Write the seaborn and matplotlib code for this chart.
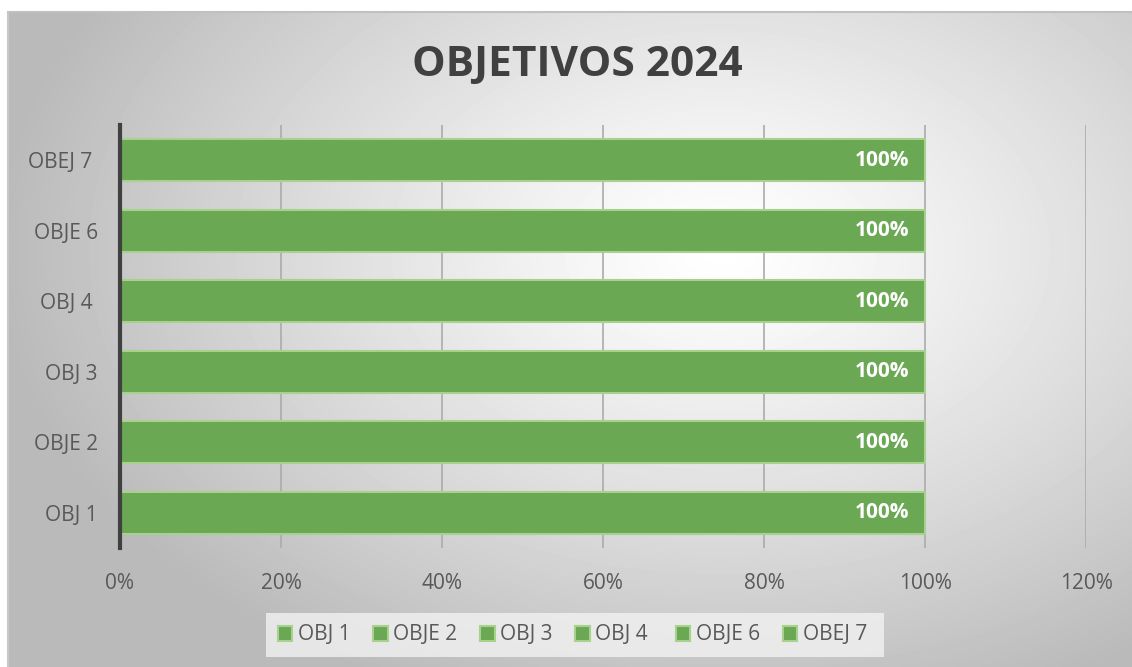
import numpy as np
import pandas as pd
import seaborn as sns
import matplotlib.pyplot as plt
from matplotlib.ticker import FuncFormatter

# data
categories = ['OBJ 1', 'OBJE 2', 'OBJ 3', 'OBJ 4 ', 'OBJE 6', 'OBEJ 7 ']
values = [100, 100, 100, 100, 100, 100]
xticks = [0, 20, 40, 60, 80, 100, 120]

green = '#6aa854'
edge = '#a9d18e'
txt = '#595959'

df = pd.DataFrame({'obj': categories, 'pct': values})

sns.set_style('white')
plt.rcParams['font.family'] = ['Open Sans', 'DejaVu Sans']

fig = plt.figure(figsize=(11.32, 6.67), dpi=100)

# radial gradient background of the chart area
bg = fig.add_axes([8 / 1132, 0, 1 - 8 / 1132, 1 - 12 / 667], zorder=-10)
W, H = 1124, 655
xx, yy = np.meshgrid(np.arange(W) + 8, np.arange(H) + 12)
r = np.sqrt(((xx - 720) / 660) ** 2 + ((yy - 250) / 440) ** 2)
shade = 255 - 62 * np.clip(r, 0, 1.1) ** 1.2
bg.imshow(shade, cmap='gray', vmin=0, vmax=255, aspect='auto', interpolation='bilinear')
bg.set_axis_off()
fig.add_artist(plt.Line2D([8 / 1132, 1], [1 - 12 / 667] * 2, color='#c0c0c0', lw=1.5))
fig.add_artist(plt.Line2D([8 / 1132] * 2, [0, 1 - 12 / 667], color='#c8c8c8', lw=1.5))

ax = fig.add_axes([120 / 1132, 1 - 548 / 667, (1086 - 120) / 1132, (548 - 125) / 667])
ax.patch.set_alpha(0)

sns.barplot(data=df, x='pct', y='obj', hue='obj', order=categories[::-1],
            hue_order=categories, palette=[green] * len(categories), saturation=1,
            width=0.6, edgecolor=edge, linewidth=1.5, legend=True, ax=ax, zorder=3)

for c in ax.containers:
    labs = ax.bar_label(c, labels=['%d%%' % v for v in c.datavalues], padding=-11,
                        color='white', fontsize=15, fontweight='bold')
    for t in labs:
        t.set_horizontalalignment('right')

ax.set_xlim(0, 120)
ax.set_xticks(xticks)
ax.xaxis.set_major_formatter(FuncFormatter(lambda v, p: '%d%%' % v))
ax.grid(axis='x', color='#ababab', lw=1.2, zorder=0)
ax.set_axisbelow(True)
ax.set_xlabel('')
ax.set_ylabel('')
for s in ['top', 'right', 'bottom']:
    ax.spines[s].set_visible(False)
ax.spines['left'].set_color('#404040')
ax.spines['left'].set_linewidth(3)
ax.spines['left'].set_zorder(5)
ax.tick_params(axis='x', length=0, pad=18, labelsize=15, labelcolor=txt)
ax.tick_params(axis='y', length=0, pad=16, labelsize=15, labelcolor=txt)

leg = ax.legend(loc='center', bbox_to_anchor=(575 / 1132, 1 - 635 / 667),
                bbox_transform=fig.transFigure, ncol=6, frameon=True, fontsize=15,
                handlelength=0.7, handleheight=0.7, handletextpad=0.25, columnspacing=1.1,
                borderpad=0.55, fancybox=False)
leg.get_frame().set_facecolor('#f2f2f2')
leg.get_frame().set_edgecolor('none')
for t in leg.get_texts():
    t.set_color(txt)

fig.text(577 / 1132, 1 - 65 / 667, 'OBJETIVOS 2024', ha='center', va='center',
         fontsize=30.5, fontweight='bold', color='#404040')

plt.savefig('out.png', dpi=100)
